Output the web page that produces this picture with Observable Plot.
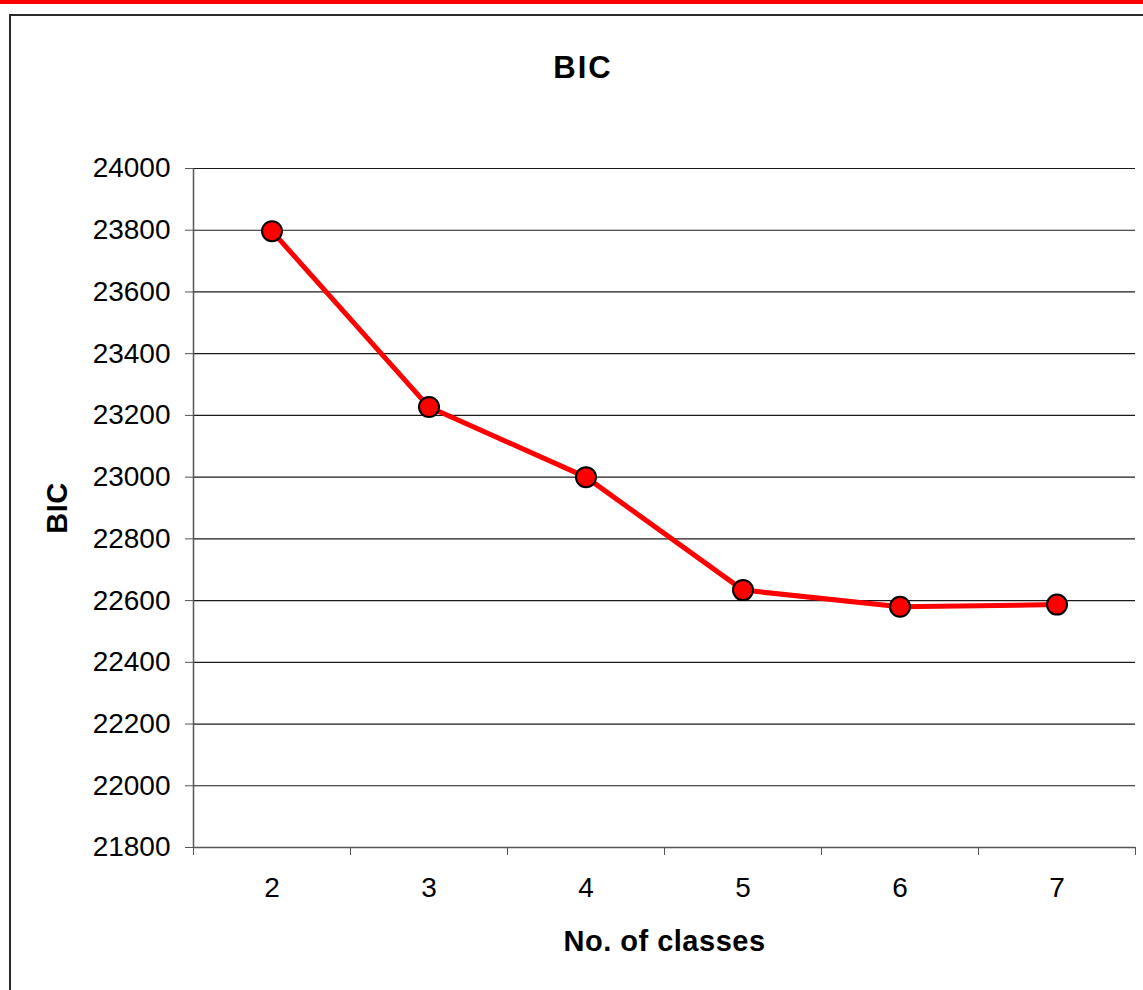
<!DOCTYPE html>
<html>
<head>
<meta charset="utf-8">
<script src="https://cdn.jsdelivr.net/npm/d3@7"></script>
<script src="https://cdn.jsdelivr.net/npm/@observablehq/plot@0.6"></script>
<style>
  html, body { margin: 0; padding: 0; background: #fff; }
  #wrap { position: relative; width: 1143px; height: 990px; overflow: hidden; background: #fff;
          font-family: "Liberation Sans", Arial, sans-serif; }
  #redbar { position: absolute; left: 0; top: 0; width: 1143px; height: 4px; background: #ff0000; }
  #frame { position: absolute; left: 9px; top: 14px; width: 1300px; height: 1100px;
           border: 2px solid #2a2a2a; box-sizing: border-box; }
  #title { position: absolute; left: 0; top: 50px; width: 1166px; text-align: center;
           font-size: 31px; line-height: 36px; font-weight: bold; color: #000; letter-spacing: 2px; }
  #chart { position: absolute; left: 0; top: 110px; }
  #chart svg { font-family: "Liberation Sans", Arial, sans-serif; overflow: visible; }
  #chart g[aria-label="x-axis label"] text,
  #chart g[aria-label="y-axis label"] text { font-weight: bold; font-size: 29px; letter-spacing: 0.5px; }
</style>
</head>
<body>
<div id="wrap">
  <div id="redbar"></div>
  <div id="frame"></div>
  <div id="title">BIC</div>
  <div id="chart"></div>
</div>
<script>
const classes = [2, 3, 4, 5, 6, 7];
const bic = [23797, 23227, 23000, 22634, 22580, 22587];
const yTicks = [21800, 22000, 22200, 22400, 22600, 22800, 23000, 23200, 23400, 23600, 23800, 24000];

const data = classes.map((c, i) => ({ k: c, v: bic[i] }));
const xDomain = [classes[0] - 0.5, classes[classes.length - 1] + 0.5];
const yDomain = [yTicks[0], yTicks[yTicks.length - 1]];
const boundaries = classes.map(c => c - 0.5).concat([xDomain[1]]);

const chart = Plot.plot({
  width: 1143,
  height: 880,
  marginTop: 58,
  marginBottom: 143,
  marginLeft: 193,
  marginRight: 8,
  style: { fontSize: "28px", color: "#000", background: "transparent" },
  x: { type: "linear", domain: xDomain },
  y: { domain: yDomain },
  marks: [
    Plot.gridY(yTicks.slice(1), { stroke: "#1a1a1a", strokeOpacity: 1, strokeWidth: 1.2 }),
    Plot.ruleY([yDomain[0]], { stroke: "#555", strokeWidth: 1.5 }),
    Plot.ruleX([xDomain[0]], { stroke: "#555", strokeWidth: 1.5 }),
    Plot.axisY(yTicks, {
      tickSize: 8, tickPadding: 15, stroke: "#555", tickFormat: d => String(d),
      label: "BIC", labelAnchor: "center", labelArrow: false, labelOffset: 147
    }),
    Plot.axisX(boundaries, { tickSize: 8, stroke: "#555", tickFormat: () => "", label: null }),
    Plot.axisX(classes, {
      tickSize: 0, tickPadding: 30, tickFormat: d => String(d),
      label: "No. of classes", labelAnchor: "center", labelArrow: false, labelOffset: 103
    }),
    Plot.line(data, { x: "k", y: "v", stroke: "#ff0000", strokeWidth: 5 }),
    Plot.dot(data, { x: "k", y: "v", r: 10, fill: "#ff0000", stroke: "#000", strokeWidth: 2 })
  ]
});
document.getElementById("chart").appendChild(chart);
</script>
</body>
</html>
